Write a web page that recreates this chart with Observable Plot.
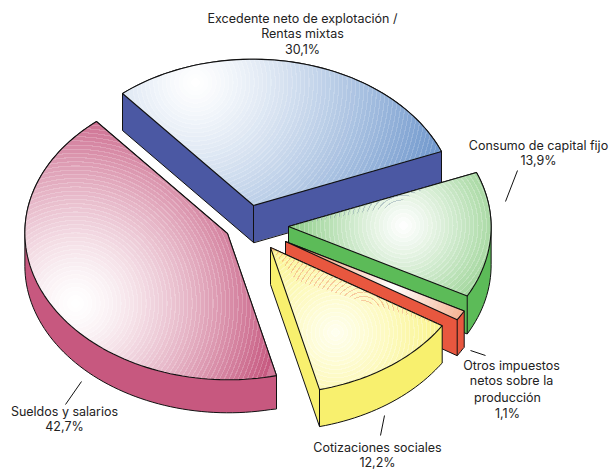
<!DOCTYPE html>
<html><head><meta charset="utf-8">
<style>html,body{margin:0;padding:0;background:#fff}svg{display:block}</style>
<script src="https://cdn.jsdelivr.net/npm/d3@7"></script>
<script src="https://cdn.jsdelivr.net/npm/@observablehq/plot@0.6"></script>
</head><body><div id="chart"></div>
<script>
// Data
const categories = ["Excedente neto de explotación /\nRentas mixtas", "Consumo de capital fijo", "Otros impuestos netos sobre la producción", "Cotizaciones sociales", "Sueldos y salarios"];
const shares = [30.1, 13.9, 1.1, 12.2, 42.7];
const shareLabels = ["30,1%", "13,9%", "1,1%", "12,2%", "42,7%"];

// Layout: projected pie and exploded position of each slice
const axisA = [-131, -112], axisB = [154.6, -94.1];
const apexX = [253, 288, 285, 270, 227];
const apexY = [205, 226, 241, 247, 233];
const depth = [37, 38, 36, 37, 33];
const drawOrder = [0, 4, 1, 2, 3];
const wallColor = ["#4b58a3", "#5cbb58", "#e8573f", "#f8f06e", "#c7587f"];
const faceGrad = [
  {cx:195, cy:82,  r:262, inner:"#ffffff", outer:"#6a94cb", gamma:1.2, ring:.16},
  {cx:403, cy:225, r:125, inner:"#ffffff", outer:"#82c87b", gamma:1.1, ring:.2},
  {cx:393, cy:287, r:90,  inner:"#ffffff", outer:"#f3a27c", gamma:1.0, ring:0},
  {cx:335, cy:332, r:125, inner:"#fffff0", outer:"#f9f27c", gamma:1.0, ring:.25},
  {cx:75,  cy:303, r:205, inner:"#ffffff", outer:"#c6587f", gamma:1.4, ring:.18}
];

const fontSize = 12.5;
const labelBlocks = [
  {t:`${categories[0]}\n${shareLabels[0]}`, x:302, y:33, spacing:15.2},
  {t:`${categories[1]}\n${shareLabels[1]}`, x:538, y:152, spacing:15.2},
  {t:"Otros impuestos\nnetos sobre la", x:511, y:372, spacing:15.2},
  {t:`producción\n${shareLabels[2]}`, x:507, y:404, spacing:16},
  {t:`${categories[3]}\n${shareLabels[3]}`, x:377, y:454, spacing:15.2},
  {t:`${categories[4]}\n${shareLabels[4]}`, x:64, y:418, spacing:15.2}
];
const leaders = [
  {x1:517, y1:170, x2:505, y2:201},
  {x1:470, y1:350, x2:485, y2:355},
  {x1:384, y1:415, x2:380, y2:435},
  {x1:81,  y1:381, x2:65,  y2:404}
];

// Geometry from the shares
const total = d3.sum(shares);
const cum = d3.cumsum(shares);
const ell = (i, th) => ({
  x: apexX[i] + axisA[0]*Math.cos(th) + axisB[0]*Math.sin(th),
  y: apexY[i] + axisA[1]*Math.cos(th) + axisB[1]*Math.sin(th)
});
const startAng = i => (i ? cum[i-1] : 0) / total * 2*Math.PI;
const endAng = i => cum[i] / total * 2*Math.PI;
const faces = shares.map((s, i) => {
  const n = Math.max(4, Math.ceil(s*2));
  const pts = [{x:apexX[i], y:apexY[i]}];
  for (let k = 0; k <= n; k++) pts.push(ell(i, startAng(i) + (endAng(i)-startAng(i))*k/n));
  return pts;
});
const hull = faces.map((pts, i) => {
  const all = pts.flatMap(p => [[p.x,p.y],[p.x,p.y+depth[i]]]);
  return d3.polygonHull(all).map(([x,y]) => ({x,y}));
});
// Visible vertical corner of each block
const corners = [
  {i:0, p:faces[0][0]},
  {i:1, p:ell(1,endAng(1))},
  {i:2, p:ell(2,endAng(2))},
  {i:3, p:ell(3,endAng(3))}
].map(({i,p}) => ({x1:p.x, y1:p.y, x2:p.x, y2:p.y+depth[i], i}));

// Gradients with concentric rings
function stops(g, sel) {
  const step = 4.2, N = Math.round(g.r/step), line = 1.1/g.r;
  const c = d3.interpolateRgb(g.inner, g.outer);
  for (let k = 0; k < N; k++) {
    const t0 = k/N, t1 = (k+1)/N;
    const col = c(Math.pow((t0+t1)/2, g.gamma));
    const lit = d3.interpolateRgb(col, "#ffffff")(g.ring);
    sel.append("stop").attr("offset", t0).attr("stop-color", col);
    sel.append("stop").attr("offset", t1-line).attr("stop-color", col);
    sel.append("stop").attr("offset", t1-line).attr("stop-color", lit);
    sel.append("stop").attr("offset", t1).attr("stop-color", lit);
  }
}
function ghost(sel, color, step, op) {
  return function(r) {
    const N = Math.round(r/step), line = 1/r;
    for (let k = 0; k < N; k++) {
      const t0 = k/N, t1 = (k+1)/N;
      sel.append("stop").attr("offset", t0).attr("stop-color", color).attr("stop-opacity", 0);
      sel.append("stop").attr("offset", t1-line).attr("stop-color", color).attr("stop-opacity", 0);
      sel.append("stop").attr("offset", t1-line).attr("stop-color", color).attr("stop-opacity", op);
      sel.append("stop").attr("offset", t1).attr("stop-color", color).attr("stop-opacity", op);
    }
  };
}
const defsMark = () => {
  const defs = d3.create("svg:defs");
  faceGrad.forEach((g, i) => {
    const s = defs.append("radialGradient").attr("id", "face"+i).attr("gradientUnits","userSpaceOnUse")
      .attr("cx", g.cx).attr("cy", g.cy).attr("r", g.r);
    stops(g, s);
  });
  const gy = defs.append("radialGradient").attr("id","ghostY").attr("gradientUnits","userSpaceOnUse")
    .attr("cx",363).attr("cy",313).attr("r",110);
  ghost(gy,"#ef8a62",4.4,.42)(110);
  const gg = defs.append("radialGradient").attr("id","ghostG").attr("gradientUnits","userSpaceOnUse")
    .attr("cx",403).attr("cy",225).attr("r",135);
  ghost(gg,"#7c8fa8",4.4,.4)(135);
  return defs.node();
};

const lineOpts = {x:"x", y:"y", curve:"linear-closed"};
const blockMarks = drawOrder.flatMap(i => {
  const ms = [
    Plot.line(hull[i], {...lineOpts, fill:wallColor[i], stroke:"#111", strokeWidth:1, strokeLinejoin:"round"}),
    Plot.line(faces[i], {...lineOpts, fill:`url(#face${i})`, stroke:"#111", strokeWidth:1.1, strokeLinejoin:"round"})
  ];
  const c = corners.filter(d => d.i === i);
  if (c.length) ms.push(Plot.link(c, {x1:"x1", y1:"y1", x2:"x2", y2:"y2", stroke:"#111", strokeWidth:1}));
  const ax = apexX[i], ay = apexY[i];
  if (i === 3) {
    const Y = ell(3, startAng(3)), P = ell(3, endAng(3));
    const q = {x: ax + .1*(Y.x-ax) + .18*(P.x-ax), y: ay + .1*(Y.y-ay) + .18*(P.y-ay)};
    ms.splice(2, 0, Plot.line([{x:ax,y:ay},{x:Y.x,y:Y.y},q], {...lineOpts, fill:"url(#ghostY)", stroke:"none"}));
  }
  if (i === 1) {
    const R = ell(1, startAng(1)), G = ell(1, endAng(1));
    const q1 = {x: ax + .75*(R.x-ax), y: ay + .75*(R.y-ay)};
    const q2 = {x: ax + .45*(R.x-ax) + .08*(G.x-ax), y: ay + .45*(R.y-ay) + .08*(G.y-ay)};
    ms.splice(2, 0, Plot.line([{x:ax,y:ay},q1,q2], {...lineOpts, fill:"url(#ghostG)", stroke:"none"}));
  }
  return ms;
});

const textMarks = labelBlocks.map(d => Plot.text([d], {x:"x", y:"y", text:"t", textAnchor:"middle", lineAnchor:"middle",
  lineHeight:d.spacing/fontSize, fontFamily:"Inter, sans-serif", fontSize, fill:"#222"}));

const chart = Plot.plot({
  width: 612, height: 470,
  marginTop: 0, marginRight: 0, marginBottom: 0, marginLeft: 0,
  x: {domain:[0,612], range:[0,612], axis:null},
  y: {domain:[0,470], range:[0,470], axis:null},
  style: {background:"#fff"},
  marks: [
    defsMark,
    ...blockMarks,
    Plot.link(leaders, {x1:"x1", y1:"y1", x2:"x2", y2:"y2", stroke:"#111", strokeWidth:1}),
    ...textMarks
  ]
});
document.getElementById("chart").append(chart);
</script></body></html>
